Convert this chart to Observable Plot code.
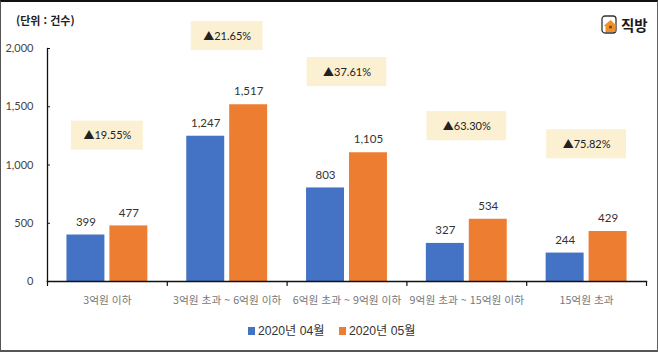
<!DOCTYPE html>
<html lang="ko">
<head>
<meta charset="utf-8">
<script src="https://cdn.jsdelivr.net/npm/d3@7"></script>
<script src="https://cdn.jsdelivr.net/npm/@observablehq/plot@0.6"></script>
<style>
  html, body { margin: 0; padding: 0; background: #fff; overflow: hidden; }
  #page { position: relative; width: 658px; height: 352px; font-family: "Noto Sans CJK KR", sans-serif; }
  #frame { position: absolute; inset: 0; box-sizing: border-box; pointer-events: none;
           border-top: 2px solid #111; border-left: 1.5px solid #555; border-bottom: 2px solid #555; border-right: 1.5px solid #666; }
  #unit { position: absolute; left: 16px; top: 12px; font: bold 11px "Noto Sans CJK KR", sans-serif; color: #222; line-height: 16px; }
  #logo { position: absolute; left: 601px; top: 15px; display: flex; align-items: center; gap: 3px; font: bold 14.5px "Noto Sans CJK KR", sans-serif; color: #1a1a1a; line-height: 20px; }
  #legend { height: 32px; position: relative; font: 12.2px "Liberation Sans", "Noto Sans CJK KR", sans-serif; color: #333; }
  #legend span { position: absolute; top: 0; line-height: 22px; white-space: nowrap; }
  #legend i { position: absolute; top: 7px; width: 7px; height: 8px; }
  svg text { font-family: Lato, "Noto Sans CJK KR", sans-serif; }
  svg g.catlabels text { font-family: "Noto Sans CJK KR", sans-serif; }
</style>
</head>
<body>
<div id="page">
  <div id="chart"></div>
  <div id="legend"></div>
  <div id="unit">(단위 : 건수)</div>
  <div id="logo">
    <svg width="17" height="20" viewBox="0 0 17 20" style="overflow:visible">
      <rect x="1" y="1" width="14" height="17" rx="3" fill="#fff" stroke="#333" stroke-width="1.3"/>
      <path d="M2.5 11 L9.5 5 L16 11 L14.5 11 L14.5 17 L4.5 17 L4.5 11 Z" fill="#f0902a"/>
      <circle cx="9.5" cy="12" r="1.6" fill="#7a4510"/>
    </svg>
    <span>직방</span>
  </div>
  <div id="frame"></div>
</div>
<script>
const categories = ["3억원 이하", "3억원 초과 ~ 6억원 이하", "6억원 초과 ~ 9억원 이하", "9억원 초과 ~ 15억원 이하", "15억원 초과"];
const seriesNames = ["2020년 04월", "2020년 05월"];
const april = [399, 1247, 803, 327, 244];
const may = [477, 1517, 1105, 534, 429];
const changeLabels = ["▲19.55%", "▲21.65%", "▲37.61%", "▲63.30%", "▲75.82%"];
const changeLevels = [1252, 2107, 1798, 1333, 1178];
const colors = ["#4472C4", "#ED7D31"];
const yTicks = [0, 500, 1000, 1500, 2000];

const rows = categories.flatMap((c, i) => [
  {category: c, series: seriesNames[0], value: april[i]},
  {category: c, series: seriesNames[1], value: may[i]}
]);
const notes = categories.map((c, i) => ({category: c, label: changeLabels[i], level: changeLevels[i], narrow: i < 2}));
const halfBox = 125;
const spike = {draw(ctx, l) { ctx.moveTo(0, 0); ctx.lineTo(0, -l); }};

const chart = Plot.plot({
  width: 658,
  height: 320,
  marginLeft: 47,
  marginRight: 12,
  marginTop: 48,
  marginBottom: 39,
  style: {background: "transparent", overflow: "visible"},
  fx: {domain: categories, padding: 0, round: false, axis: null},
  x: {domain: seriesNames, paddingInner: 0.116, paddingOuter: 0.453, round: false, axis: null},
  y: {domain: [0, 2000], axis: null},
  color: {domain: seriesNames, range: colors},
  marks: [
    Plot.barY(notes, {filter: d => d.narrow, fx: "category", y1: d => d.level - halfBox, y2: d => d.level + halfBox, fill: "#FBF0D2", insetLeft: 24, insetRight: 24}),
    Plot.barY(notes, {filter: d => !d.narrow, fx: "category", y1: d => d.level - halfBox, y2: d => d.level + halfBox, fill: "#FBF0D2", insetLeft: 20, insetRight: 20}),
    Plot.text(notes, {fx: "category", y: "level", text: "label", fontSize: 11, fill: "#222"}),
    Plot.barY(rows, {fx: "category", x: "series", y: "value", fill: "series"}),
    Plot.text(rows, {fx: "category", x: "series", y: "value", text: d => d3.format(",")(d.value), dy: -13, fontSize: 11.5, fill: "#333"}),
    Plot.frame({anchor: "left", facet: "super", stroke: "#111", strokeWidth: 1.3}),
    Plot.frame({anchor: "bottom", facet: "super", stroke: "#111", strokeWidth: 1.3}),
    Plot.vector(categories, {fx: d => d, y: () => 0, frameAnchor: "left", length: 4, rotate: 180, anchor: "start", shape: spike, stroke: "#111", strokeWidth: 1.2}),
    Plot.vector(categories.slice(-1), {fx: d => d, y: () => 0, frameAnchor: "right", length: 4, rotate: 180, anchor: "start", shape: spike, stroke: "#111", strokeWidth: 1.2}),
    Plot.axisY({ticks: yTicks, tickFormat: d3.format(","), tickSize: -3, tickPadding: 17, fontSize: 11, fill: "#444", stroke: "#111", label: null}),
    Plot.axisFx({anchor: "bottom", tickSize: 0, tickPadding: 15, fontSize: 10.7, fill: "#777", lineWidth: 20, label: null, className: "catlabels"})
  ]
});
document.getElementById("chart").appendChild(chart);
chart.style.display = "block";

const legend = document.getElementById("legend");
const legendLefts = [248, 339];
seriesNames.forEach((name, i) => {
  const sw = document.createElement("i");
  sw.style.left = legendLefts[i] + "px";
  sw.style.background = colors[i];
  legend.appendChild(sw);
  const t = document.createElement("span");
  t.style.left = legendLefts[i] + 10 + "px";
  t.textContent = name;
  legend.appendChild(t);
});
</script>
</body>
</html>
